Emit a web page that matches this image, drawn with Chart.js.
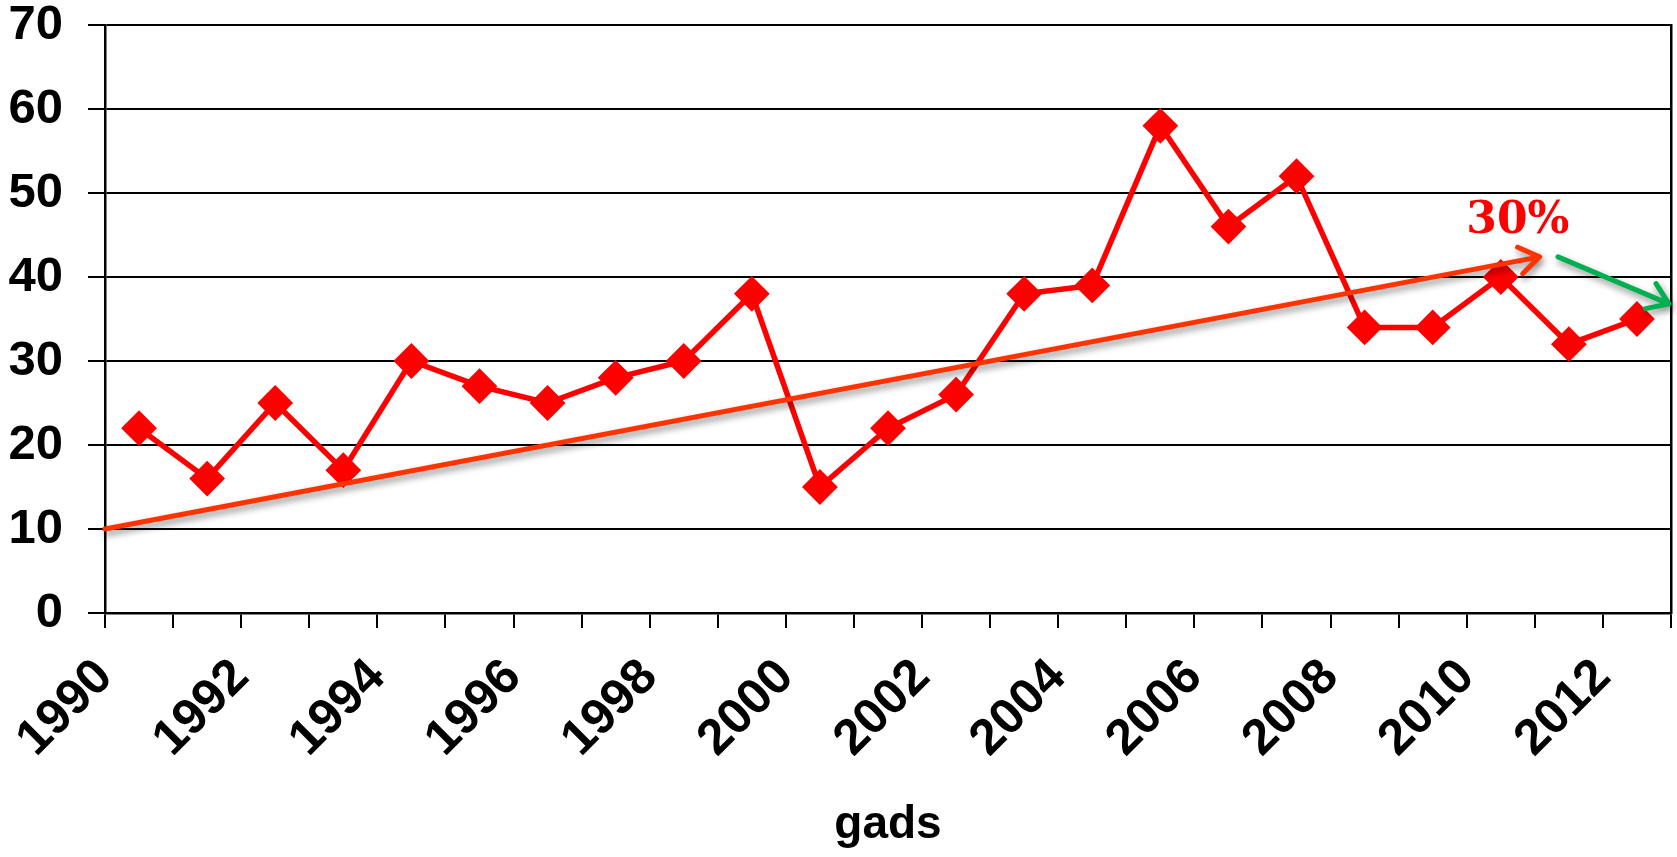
<!DOCTYPE html>
<html>
<head>
<meta charset="utf-8">
<script src="https://cdn.jsdelivr.net/npm/chart.js@4.4.0/dist/chart.umd.min.js"></script>
<style>
  html, body { margin: 0; padding: 0; background: #fff; }
  #wrap { width: 1677px; height: 857px; }
</style>
</head>
<body>
<div id="wrap"><canvas id="chart"></canvas></div>
<script>
// gadi un vērtības
const years = [1990, 1991, 1992, 1993, 1994, 1995, 1996, 1997, 1998, 1999, 2000, 2001,
               2002, 2003, 2004, 2005, 2006, 2007, 2008, 2009, 2010, 2011, 2012];
const values = [22, 16, 25, 17, 30, 27, 25, 28, 30, 38, 15, 22,
                26, 38, 39, 58, 46, 52, 34, 34, 40, 32, 35];

// tendences bultas (datu vienībās)
const trendArrow = [[1990, 10], [2011.07, 42.4]];
const downArrow = [[2011.34, 42.4], [2012.97, 36.8]];
const trendLabel = '30%';
const trendLabelAt = [2010.75, 46.6];

const FONT = "'Liberation Sans', Arial, sans-serif";

function drawArrow(ctx, x1, y1, x2, y2, color) {
    const ang = Math.atan2(y2 - y1, x2 - x1);
    const head = 24;
    ctx.save();
    ctx.shadowColor = 'rgba(0,0,0,0.45)';
    ctx.shadowBlur = 7;
    ctx.shadowOffsetX = 2;
    ctx.shadowOffsetY = 4;
    ctx.strokeStyle = color;
    ctx.lineWidth = 5;
    ctx.lineCap = 'round';
    ctx.lineJoin = 'round';
    ctx.beginPath();
    ctx.moveTo(x1, y1);
    ctx.lineTo(x2, y2);
    ctx.moveTo(x2 - head * Math.cos(ang - 0.6), y2 - head * Math.sin(ang - 0.6));
    ctx.lineTo(x2, y2);
    ctx.lineTo(x2 - head * Math.cos(ang + 0.6), y2 - head * Math.sin(ang + 0.6));
    ctx.stroke();
    ctx.restore();
}

const arrowsPlugin = {
    id: 'arrows',
    afterDatasetsDraw(chart) {
        const ctx = chart.ctx;
        const xs = chart.scales.x, ys = chart.scales.y;
        const px = p => [xs.getPixelForValue(p[0]), ys.getPixelForValue(p[1])];
        const a = px(trendArrow[0]), b = px(trendArrow[1]);
        drawArrow(ctx, a[0], a[1], b[0], b[1], '#ff3300');
        const c = px(downArrow[0]), d = px(downArrow[1]);
        drawArrow(ctx, c[0], c[1], d[0], d[1], '#00b050');

        const t = px(trendLabelAt);
        ctx.save();
        ctx.font = "bold 44px 'DejaVu Serif', 'Liberation Serif', serif";
        ctx.fillStyle = '#ff0000';
        ctx.textAlign = 'center';
        ctx.textBaseline = 'middle';
        ctx.fillText(trendLabel, t[0], t[1]);
        ctx.restore();
    }
};

const chartContainer = document.querySelector('#chart');

new Chart(chartContainer, {
    type: 'line',
    data: {
        datasets: [{
            data: years.map((y, i) => ({ x: y + 0.5, y: values[i] })),
            borderColor: '#ff0000',
            backgroundColor: '#ff0000',
            borderWidth: 5.5,
            pointStyle: 'rectRot',
            pointRadius: 14,
            pointHoverRadius: 14,
            tension: 0,
        }]
    },
    options: {
        responsive: true,
        maintainAspectRatio: false,
        animation: false,
        events: [],
        layout: { autoPadding: false, padding: { left: 8, right: 4, top: 25, bottom: 4 } },
        plugins: {
            legend: { display: false },
            tooltip: { enabled: false },
        },
        scales: {
            x: {
                type: 'linear',
                min: 1990,
                max: 2013,
                afterFit: s => { s.height = 240; s.paddingLeft = 0; s.paddingRight = 0; },
                ticks: {
                    stepSize: 1,
                    autoSkip: false,
                    maxRotation: 45,
                    minRotation: 45,
                    padding: 20,
                    color: '#000',
                    font: { family: FONT, size: 50, weight: 'bold' },
                    callback: v => (v % 2 === 0 && v < 2013) ? String(v) : '',
                },
                grid: {
                    drawOnChartArea: false,
                    drawTicks: true,
                    tickLength: 15,
                    color: '#000',
                    lineWidth: 2,
                },
                border: { display: true, color: '#000', width: 2.5 },
                title: {
                    display: true,
                    text: 'gads',
                    color: '#000',
                    font: { family: FONT, size: 46, weight: 'bold' },
                    padding: { top: 0, bottom: 0 },
                },
            },
            y: {
                min: 0,
                max: 70,
                afterFit: s => { s.width = 97; s.paddingTop = 0; s.paddingBottom = 0; },
                ticks: {
                    stepSize: 10,
                    padding: 25,
                    color: '#000',
                    font: { family: FONT, size: 49, weight: 'bold' },
                },
                grid: {
                    color: '#000',
                    lineWidth: 2,
                    tickLength: 17,
                },
                border: { display: true, color: '#000', width: 2.5 },
            },
            y2: {
                position: 'right',
                min: 0,
                max: 70,
                afterFit: s => { s.width = 2; s.paddingTop = 0; s.paddingBottom = 0; },
                ticks: { display: false },
                grid: { drawOnChartArea: false, drawTicks: false },
                border: { display: true, color: '#000', width: 2.5 },
            },
        },
    },
    plugins: [arrowsPlugin],
});
</script>
</body>
</html>
